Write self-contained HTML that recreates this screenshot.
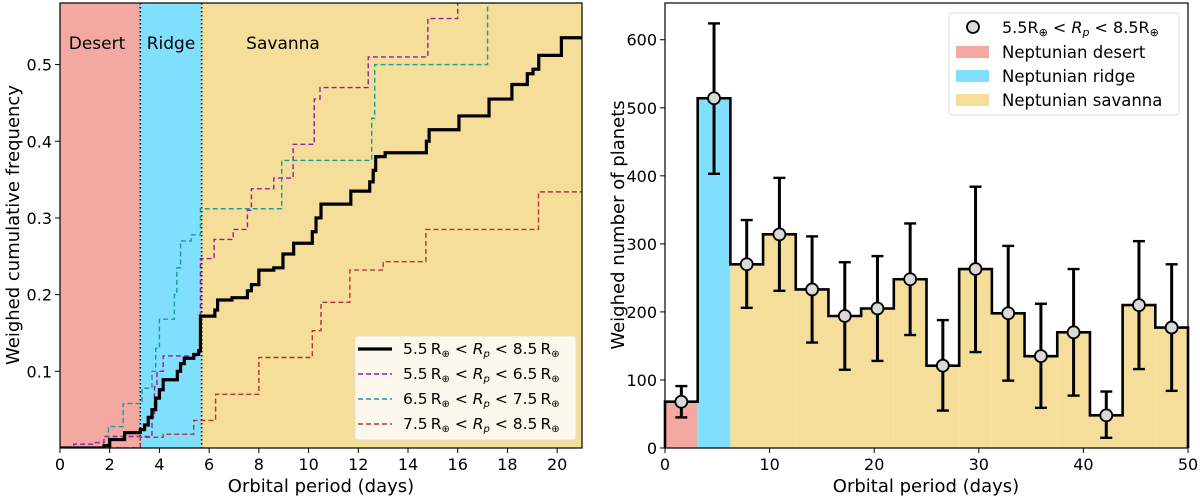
<!DOCTYPE html>
<html><head><meta charset="utf-8"><style>
body{margin:0;background:#fff;}
svg{display:block;font-family:"DejaVu Sans","Liberation Sans",sans-serif;}
</style></head><body>
<svg id="c" width="1200" height="498" viewBox="0 0 1200 498"></svg>
<script>
// ---------- LEFT CHART DATA ----------
const zonesLeft = [0, 3.23, 5.7, 21];
const zoneNames = ["Desert", "Ridge", "Savanna"];
const blackX = [0,1.77,2.0,2.6,3.23,3.4,3.55,3.7,3.85,4.0,4.15,4.72,4.85,5.0,5.38,5.58,5.65,6.23,6.34,6.92,7.54,7.7,8.0,8.6,8.97,9.4,10.15,10.3,10.5,11.7,12.46,12.6,12.7,13.08,14.74,14.85,16.05,17.26,18.18,18.8,19.03,19.26,20.17];
const blackY = [0,0.003,0.011,0.02,0.024,0.03,0.04,0.05,0.065,0.076,0.089,0.10,0.11,0.117,0.122,0.127,0.172,0.18,0.193,0.196,0.205,0.213,0.232,0.235,0.253,0.267,0.282,0.30,0.318,0.335,0.347,0.362,0.38,0.385,0.40,0.415,0.433,0.455,0.474,0.488,0.494,0.512,0.535];
const purpleX = [0.55,1.38,1.77,3.6,3.7,3.8,3.9,4.15,5.6,5.65,6.2,6.97,7.54,7.7,8.6,9.38,10.23,10.46,12.4,14.8,16.0];
const purpleY = [0.005,0.007,0.015,0.017,0.04,0.08,0.10,0.12,0.125,0.247,0.272,0.285,0.31,0.338,0.352,0.396,0.455,0.47,0.51,0.56,0.62];
const tealX = [1.95,2.54,3.3,3.7,3.85,4.0,4.6,4.7,4.85,5.28,5.65,8.92,12.54,12.66,17.2];
const tealY = [0.028,0.058,0.078,0.10,0.13,0.168,0.20,0.235,0.27,0.278,0.312,0.375,0.43,0.50,0.62];
const redX = [3.23,4.15,5.38,6.26,8.0,10.15,10.5,11.66,13.0,14.72,19.25];
const redY = [0.014,0.018,0.036,0.07,0.118,0.153,0.19,0.232,0.243,0.285,0.334];
const leftXTicks = [0,2,4,6,8,10,12,14,16,18,20];
const leftYTicks = [0.1,0.2,0.3,0.4,0.5];
const legendLeft = [["5.5","8.5"],["5.5","6.5"],["6.5","7.5"],["7.5","8.5"]];

// ---------- RIGHT CHART DATA ----------
const binEdges = [0,3.125,6.25,9.375,12.5,15.625,18.75,21.875,25,28.125,31.25,34.375,37.5,40.625,43.75,46.875,50];
const binValues = [68,514,270,314,233,194,205,248,121,263,198,135,170,48,210,177];
const errLow = [45,403,206,231,155,115,128,166,55,141,99,59,77,15,116,84];
const errHigh = [91,624,335,397,311,273,282,330,188,384,297,212,263,83,304,270];
const rightXTicks = [0,10,20,30,40,50];
const rightYTicks = [0,100,200,300,400,500,600];
const legendRight = ["Neptunian desert","Neptunian ridge","Neptunian savanna"];

const C_DES="#f3a9a1", C_RID="#80dffd", C_SAV="#f5de99";
const svg=document.getElementById('c');
const NS="http://www.w3.org/2000/svg";
function mk(tag,attrs,parent){const e=document.createElementNS(NS,tag);for(const k in attrs)e.setAttribute(k,attrs[k]);(parent||svg).appendChild(e);return e;}

const L={x0:60,x1:582,y0:448,y1:3,xmin:0,xmax:21,ymin:0,ymax:0.5803};
const R={x0:665,x1:1188,y0:448,y1:3,xmin:0,xmax:50,ymin:0,ymax:654};
const lx=v=>L.x0+(v-L.xmin)/(L.xmax-L.xmin)*(L.x1-L.x0);
const ly=v=>L.y0-(v-L.ymin)/(L.ymax-L.ymin)*(L.y0-L.y1);
const rx=v=>R.x0+(v-R.xmin)/(R.xmax-R.xmin)*(R.x1-R.x0);
const ry=v=>R.y0-(v-R.ymin)/(R.ymax-R.ymin)*(R.y0-R.y1);
const TF=16, AF=18;

// ===== LEFT =====
const gL=mk('g',{});


const cp=mk('clipPath',{id:'clipL'});mk('rect',{x:L.x0,y:L.y1,width:L.x1-L.x0,height:L.y0-L.y1},cp);
const zc=[C_DES,C_RID,C_SAV];
for(let i=0;i<3;i++){
  const r=mk('rect',{x:lx(zonesLeft[i]),y:L.y1,width:lx(zonesLeft[i+1])-lx(zonesLeft[i]),height:L.y0-L.y1,fill:zc[i]},gL);
  
  
}
const zlx=[97,171,283];
for(let i=0;i<3;i++){
  const t=mk('text',{x:zlx[i],y:49,'font-size':17,'text-anchor':'middle',fill:'#000'},gL);t.textContent=zoneNames[i];
  
  
}
for(const b of [zonesLeft[1],zonesLeft[2]]){
  const l=mk('line',{x1:lx(b),x2:lx(b),y1:L.y1,y2:L.y0,stroke:'#000','stroke-width':1.6,'stroke-dasharray':'1.5,2.5'},gL);
  
  
}
function stepPath(xs,ys){
  let d='M'+lx(0)+','+ly(0)+' L'+lx(xs[0])+','+ly(0);
  for(let i=0;i<xs.length;i++){d+=' L'+lx(xs[i])+','+ly(ys[i]);const nx=i+1<xs.length?xs[i+1]:L.xmax;d+=' L'+lx(nx)+','+ly(ys[i]);}
  return d;
}
const series=[[purpleX,purpleY,'#9a1aa8','series-5.5-6.5'],[tealX,tealY,'#1a9a9a','series-6.5-7.5'],[redX,redY,'#b83232','series-7.5-8.5']];
const gClip=mk('g',{'clip-path':'url(#clipL)'},gL);
for(const s of series){
  const p=mk('path',{d:stepPath(s[0],s[1]),fill:'none',stroke:s[2],'stroke-width':1.4,'stroke-dasharray':'5,3'},gClip);
  
  
}
const pb=mk('path',{d:stepPath(blackX,blackY),fill:'none',stroke:'#000','stroke-width':3.2},gClip);


mk('rect',{x:L.x0,y:L.y1,width:L.x1-L.x0,height:L.y0-L.y1,fill:'none',stroke:'#000','stroke-width':1.2},gL);
for(const t of leftXTicks){
  mk('line',{x1:lx(t),x2:lx(t),y1:L.y0,y2:L.y0+5,stroke:'#000'},gL);
  const e=mk('text',{x:lx(t),y:L.y0+22,'font-size':TF,'text-anchor':'middle'},gL);e.textContent=t;
  
  
}
for(const t of leftYTicks){
  mk('line',{x1:L.x0-5,x2:L.x0,y1:ly(t),y2:ly(t),stroke:'#000'},gL);
  const e=mk('text',{x:L.x0-8,y:ly(t)+6,'font-size':TF,'text-anchor':'end'},gL);e.textContent=t.toFixed(1);
  
  
}
let e=mk('text',{x:321,y:492,'font-size':AF,'text-anchor':'middle'},gL);e.textContent='Orbital period (days)';


e=mk('text',{x:0,y:0,'font-size':AF,'text-anchor':'middle',transform:'translate(19,225) rotate(-90)'},gL);e.textContent='Weighed cumulative frequency';


const lg=mk('g',{},gL);


mk('rect',{x:355,y:336,width:221,height:104,rx:3,fill:'#fcf8ee',stroke:'#e8e2d0'},lg);
const lcol=['#000','#9a1aa8','#1a9a9a','#b83232'];
for(let i=0;i<4;i++){
  const y=349+i*25;
  const ln=mk('line',{x1:358,x2:392,y1:y,y2:y,stroke:lcol[i],'stroke-width':i==0?3.2:1.4,'stroke-dasharray':i==0?'none':'5,3'},lg);
  
  
  const t=mk('text',{x:403,y:y+5,'font-size':15.5},lg);
  t.innerHTML=legendLeft[i][0]+'\u2009R<tspan font-size="10" dy="3">\u2295</tspan><tspan dy="-3"> &lt; </tspan><tspan font-style="italic">R</tspan><tspan font-size="10" dy="3" font-style="italic">p</tspan><tspan dy="-3"> &lt; '+legendLeft[i][1]+'\u2009R</tspan><tspan font-size="10" dy="3">\u2295</tspan>';
  
  
}

// ===== RIGHT =====
const gR=mk('g',{});


let outline='M'+rx(0)+','+ry(0);
for(let i=0;i<binValues.length;i++){
  const c=i==0?C_DES:(i==1?C_RID:C_SAV);
  const r=mk('rect',{x:rx(binEdges[i]),y:ry(binValues[i]),width:rx(binEdges[i+1])-rx(binEdges[i]),height:ry(0)-ry(binValues[i]),fill:c},gR);
  
  
  outline+=' L'+rx(binEdges[i])+','+ry(binValues[i])+' L'+rx(binEdges[i+1])+','+ry(binValues[i]);
}
outline+=' L'+rx(50)+','+ry(0);
const po=mk('path',{d:outline,fill:'none',stroke:'#000','stroke-width':2.6},gR);


for(let i=0;i<binValues.length;i++){
  const cx=rx((binEdges[i]+binEdges[i+1])/2);
  const eb=mk('g',{},gR);
  
  
  mk('line',{x1:cx,x2:cx,y1:ry(errLow[i]),y2:ry(errHigh[i]),stroke:'#000','stroke-width':3},eb);
  mk('line',{x1:cx-6,x2:cx+6,y1:ry(errLow[i]),y2:ry(errLow[i]),stroke:'#000','stroke-width':2.4},eb);
  mk('line',{x1:cx-6,x2:cx+6,y1:ry(errHigh[i]),y2:ry(errHigh[i]),stroke:'#000','stroke-width':2.4},eb);
  const pt=mk('circle',{cx:cx,cy:ry(binValues[i]),r:6,fill:'#d9d9d9',stroke:'#000','stroke-width':1.8},gR);
  
  
}
mk('rect',{x:R.x0,y:R.y1,width:R.x1-R.x0,height:R.y0-R.y1,fill:'none',stroke:'#000','stroke-width':1.2},gR);
for(const t of rightXTicks){
  mk('line',{x1:rx(t),x2:rx(t),y1:R.y0,y2:R.y0+5,stroke:'#000'},gR);
  const e=mk('text',{x:rx(t),y:R.y0+22,'font-size':TF,'text-anchor':'middle'},gR);e.textContent=t;
  
  
}
for(const t of rightYTicks){
  mk('line',{x1:R.x0-5,x2:R.x0,y1:ry(t),y2:ry(t),stroke:'#000'},gR);
  const e=mk('text',{x:R.x0-8,y:ry(t)+6,'font-size':TF,'text-anchor':'end'},gR);e.textContent=t;
  
  
}
e=mk('text',{x:926,y:492,'font-size':AF,'text-anchor':'middle'},gR);e.textContent='Orbital period (days)';


e=mk('text',{x:0,y:0,'font-size':AF,'text-anchor':'middle',transform:'translate(624,225) rotate(-90)'},gR);e.textContent='Weighed number of planets';


const lr=mk('g',{},gR);


mk('rect',{x:949,y:13,width:230,height:102,rx:3,fill:'#fff',stroke:'#ddd'},lr);
mk('circle',{cx:973,cy:27,r:6,fill:'#d9d9d9',stroke:'#000','stroke-width':1.8},lr);
let t=mk('text',{x:1002,y:33,'font-size':16},lr);
t.innerHTML='5.5R<tspan font-size="11" dy="3">\u2295</tspan><tspan dy="-3"> &lt; </tspan><tspan font-style="italic">R</tspan><tspan font-size="11" dy="3" font-style="italic">p</tspan><tspan dy="-3"> &lt; 8.5R</tspan><tspan font-size="11" dy="3">\u2295</tspan>';


const lc=[C_DES,C_RID,C_SAV];
for(let i=0;i<3;i++){
  const y=52+i*24;
  const sw=mk('rect',{x:956,y:y-6,width:33,height:12,fill:lc[i]},lr);
  
  
  const tt=mk('text',{x:1002,y:y+6,'font-size':16.5},lr);tt.textContent=legendRight[i];
  
  
}
</script>
</body></html>
